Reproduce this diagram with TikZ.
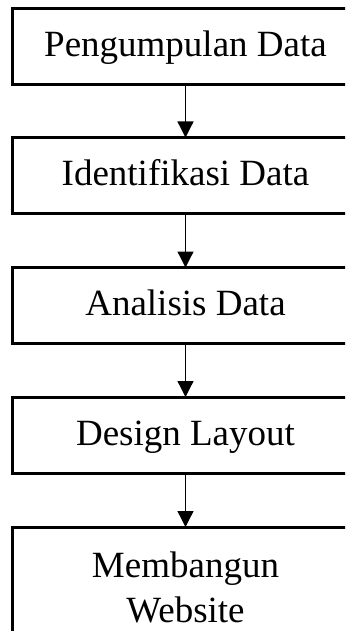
\documentclass[tikz,border=0pt]{standalone}
\usepackage{fontspec}
\setmainfont{Liberation Serif}
\usetikzlibrary{arrows.meta}
\begin{document}
\begin{tikzpicture}[x=1pt,y=-1pt,
  boxbase/.style={draw, line width=3pt, outer sep=0pt, inner sep=0pt,
    minimum width=347pt, align=center,
    font=\fontsize{37}{45}\selectfont},
  stepbox/.style={boxbase, minimum height=76pt, text height=27pt, text depth=7pt},
  tallbox/.style={boxbase, minimum height=120pt},
  flow/.style={line width=1.3pt, -{Triangle[length=16pt,width=16pt]}}]
  \useasboundingbox (0,0) rectangle (345,631);
  \clip (0,0) rectangle (345,631);
  % process steps, top to bottom
  \node[stepbox] (s1) at (185.5,47)    {Pengumpulan Data};
  \node[stepbox] (s2) at (185.5,175.5) {Identifikasi Data};
  \node[stepbox] (s3) at (185.5,305.5) {Analisis Data};
  \node[stepbox] (s4) at (185.5,435)   {Design Layout};
  \node[tallbox] (s5) at (185.5,587)   {Membangun\\Website};
  % connectors
  \draw[flow] (s1.south) -- (s2.north);
  \draw[flow] (s2.south) -- (s3.north);
  \draw[flow] (s3.south) -- (s4.north);
  \draw[flow] (s4.south) -- (s5.north);
\end{tikzpicture}
\end{document}
